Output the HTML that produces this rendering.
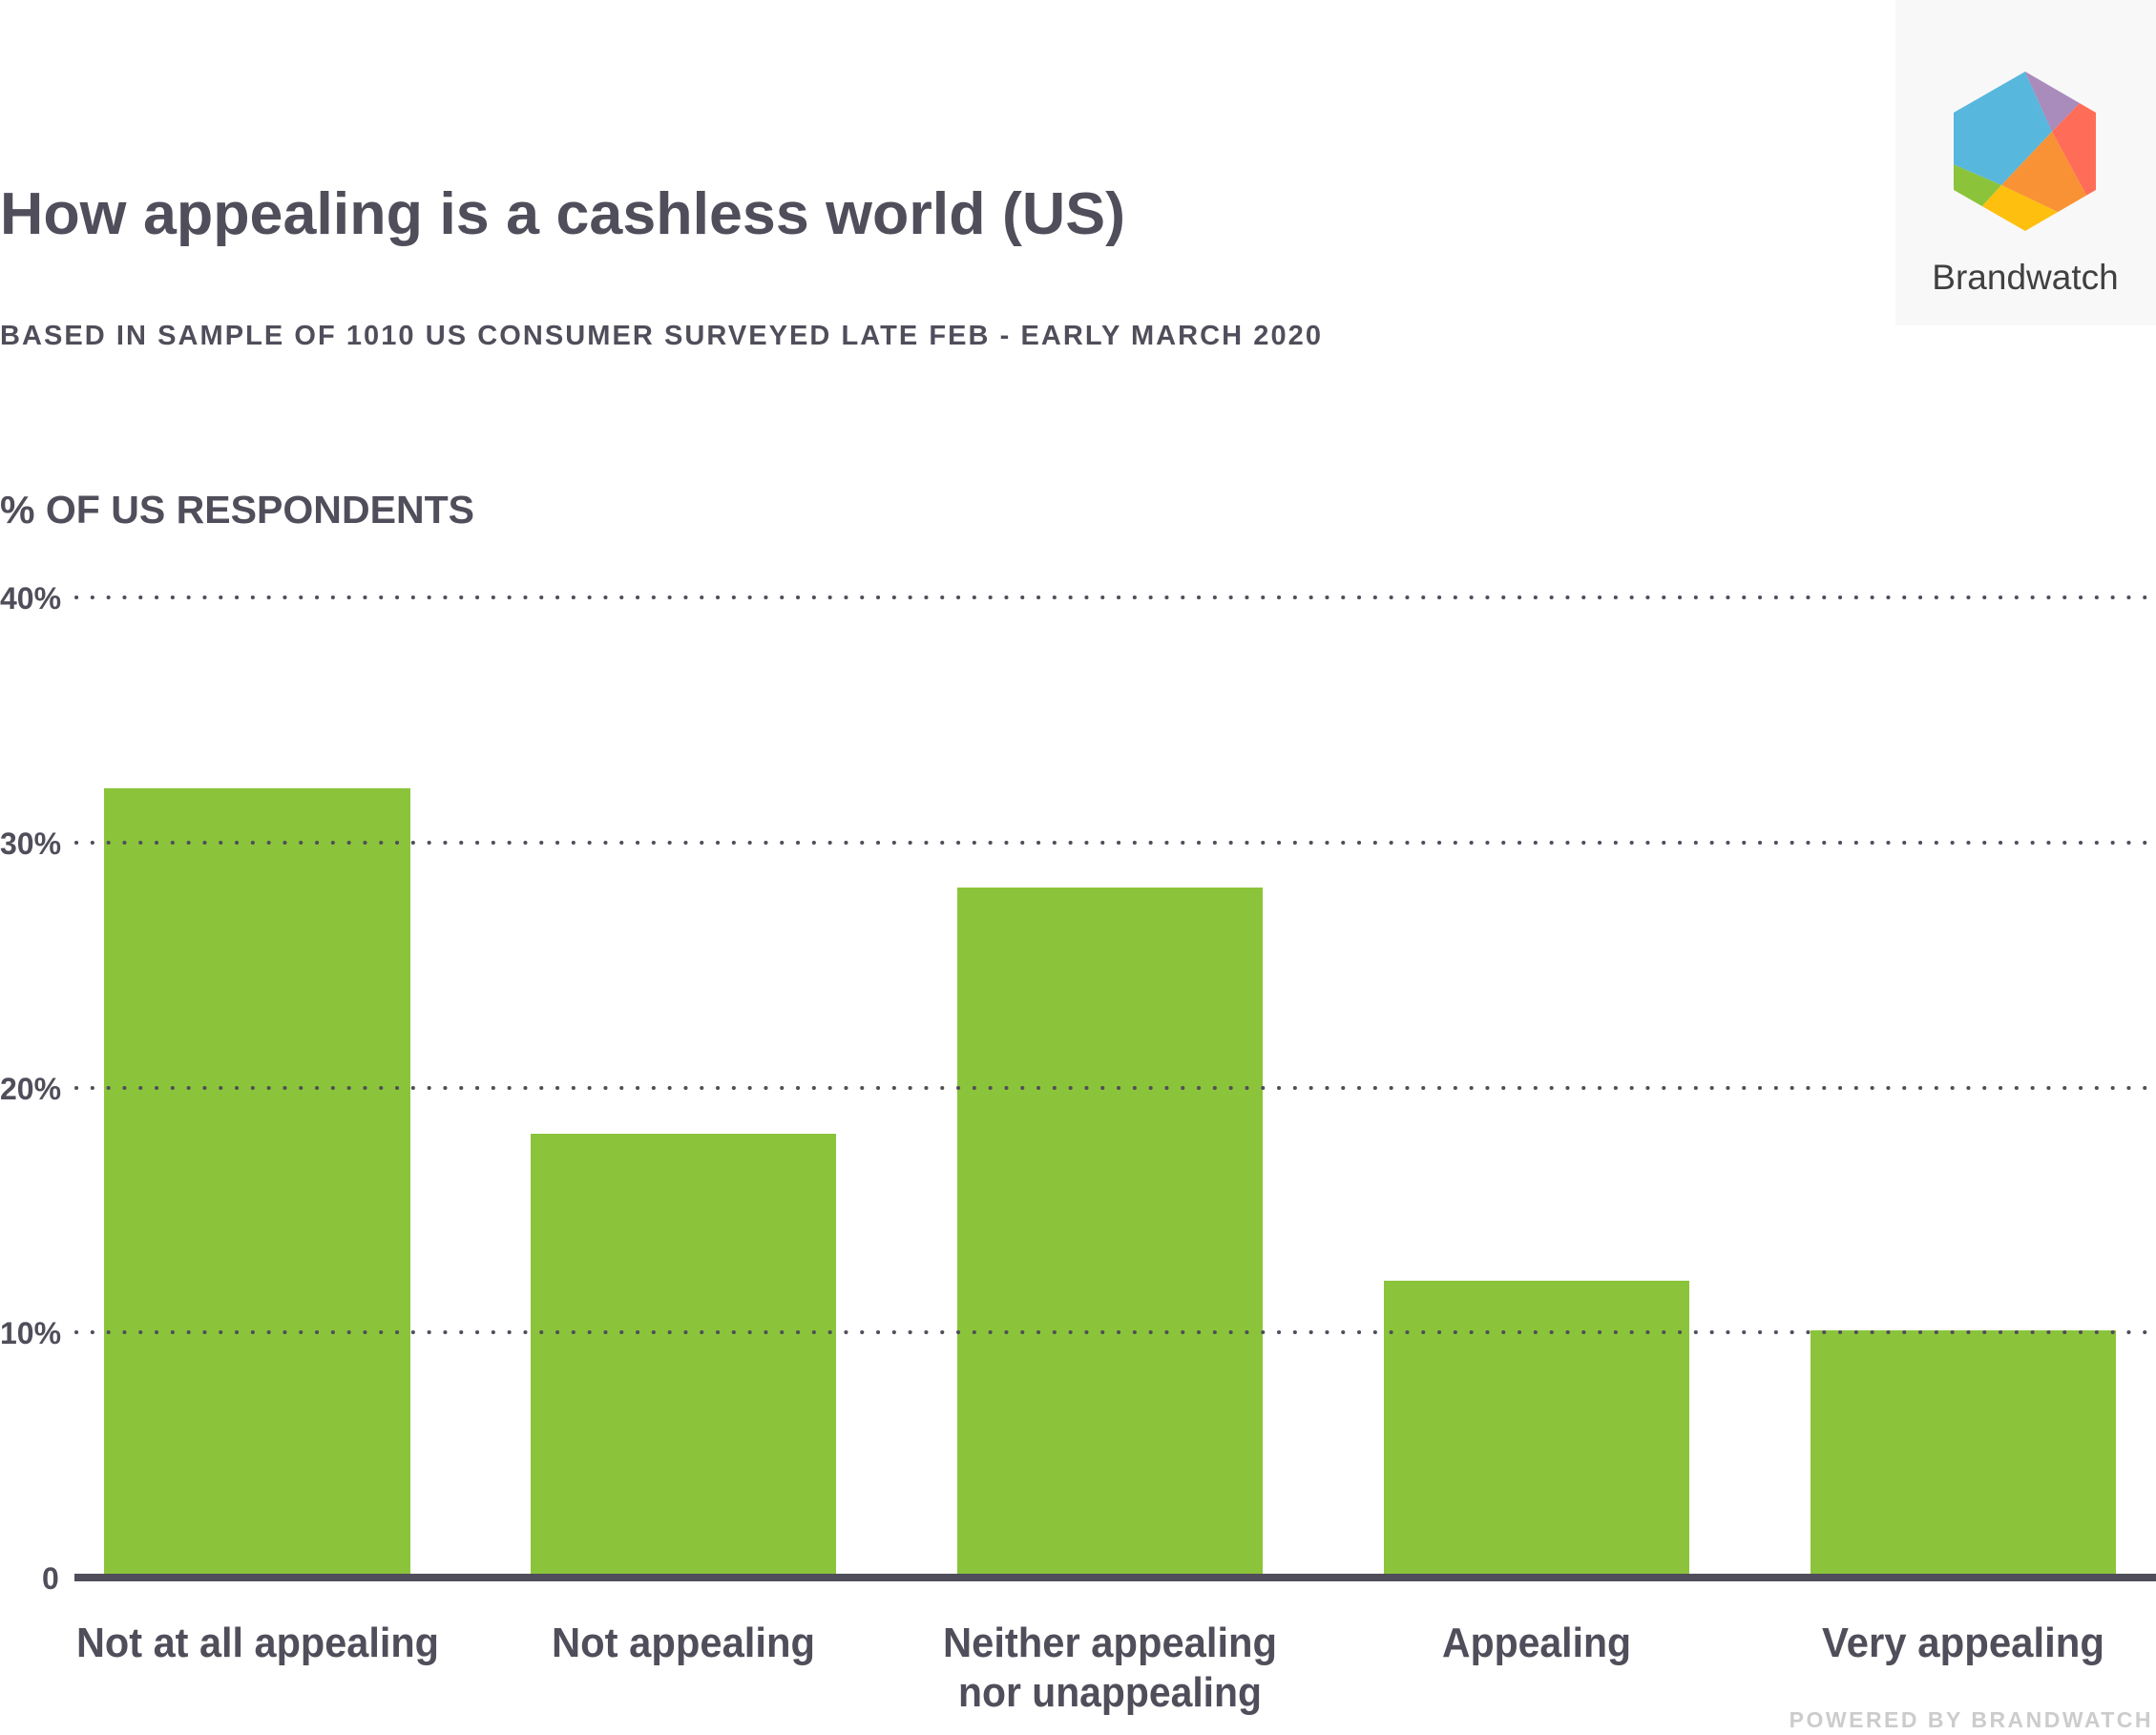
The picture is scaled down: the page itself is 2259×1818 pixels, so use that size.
<!DOCTYPE html>
<html><head><style>
body{margin:0;width:2259px;height:1818px;background:#fff;overflow:hidden;font-family:"Liberation Sans",sans-serif;}
</style></head><body>
<svg width="2259" height="1818" viewBox="0 0 2259 1818" xmlns="http://www.w3.org/2000/svg" style="position:absolute;left:0;top:0">
<defs>
<clipPath id="hex"><path d="M2122,75 L2196,118 L2196,199 L2122,242 L2047,199 L2047,118 Z"/></clipPath>
</defs>
<rect x="1986" y="0" width="273" height="341" fill="#f8f8f8"/>
<g clip-path="url(#hex)">
<polygon points="2030,60 2115,60 2150,138 2097,194 2030,165" fill="#58b7dd"/>
<polygon points="2115,60 2210,60 2210,95 2181,106 2150,138" fill="#a98bbc"/>
<polygon points="2181,106 2210,95 2210,215 2188,208 2150,138" fill="#ff6d58"/>
<polygon points="2150,138 2188,208 2210,215 2160,224 2097,194" fill="#f89234"/>
<polygon points="2097,194 2160,224 2122,260 2074,219" fill="#ffbf0f"/>
<polygon points="2030,165 2097,194 2074,219 2030,230" fill="#8bc43a"/>
</g>
<text x="2122" y="303" text-anchor="middle" font-size="37" fill="#404040">Brandwatch</text>

<text x="0" y="245" font-size="62" font-weight="bold" fill="#4f4e5a" textLength="1179" lengthAdjust="spacingAndGlyphs">How appealing is a cashless world (US)</text>
<text x="0" y="361" font-size="29" font-weight="bold" fill="#4f4e5a" textLength="1384" lengthAdjust="spacing">BASED IN SAMPLE OF 1010 US CONSUMER SURVEYED LATE FEB - EARLY MARCH 2020</text>
<text x="0" y="548" font-size="41" font-weight="bold" fill="#4f4e5a" textLength="497" lengthAdjust="spacingAndGlyphs">% OF US RESPONDENTS</text>

<g fill="#8bc43a">
<rect x="109" y="826" width="321" height="827"/>
<rect x="556" y="1188" width="320" height="465"/>
<rect x="1003" y="930" width="320" height="723"/>
<rect x="1450" y="1342" width="320" height="311"/>
<rect x="1897" y="1394" width="320" height="259"/>
</g>
<g stroke="#4f4e5a" stroke-width="4" stroke-dasharray="0.1 16.7" stroke-linecap="round">
<line x1="80" y1="626" x2="2259" y2="626"/>
<line x1="80" y1="883" x2="2259" y2="883"/>
<line x1="80" y1="1140" x2="2259" y2="1140"/>
<line x1="80" y1="1396" x2="2259" y2="1396"/>
</g>
<g font-size="32" font-weight="bold" fill="#4f4e5a">
<text x="0" y="638">40%</text>
<text x="0" y="895">30%</text>
<text x="0" y="1152">20%</text>
<text x="0" y="1408">10%</text>
<text x="44" y="1665">0</text>
</g>
<rect x="78" y="1649" width="2181" height="8" fill="#4f4e5a"/>
<g font-size="44" font-weight="bold" fill="#4f4e5a" text-anchor="middle">
<text x="270" y="1736" textLength="380" lengthAdjust="spacingAndGlyphs">Not at all appealing</text>
<text x="716" y="1736" textLength="276" lengthAdjust="spacingAndGlyphs">Not appealing</text>
<text x="1163" y="1736" textLength="350" lengthAdjust="spacingAndGlyphs">Neither appealing</text>
<text x="1163" y="1788" textLength="318" lengthAdjust="spacingAndGlyphs">nor unappealing</text>
<text x="1610" y="1736" textLength="198" lengthAdjust="spacingAndGlyphs">Appealing</text>
<text x="2057" y="1736" textLength="296" lengthAdjust="spacingAndGlyphs">Very appealing</text>
</g>
<text x="2256" y="1810" text-anchor="end" font-size="23" font-weight="bold" fill="#cccccc" letter-spacing="2.5">POWERED BY BRANDWATCH</text>
</svg>
</body></html>
